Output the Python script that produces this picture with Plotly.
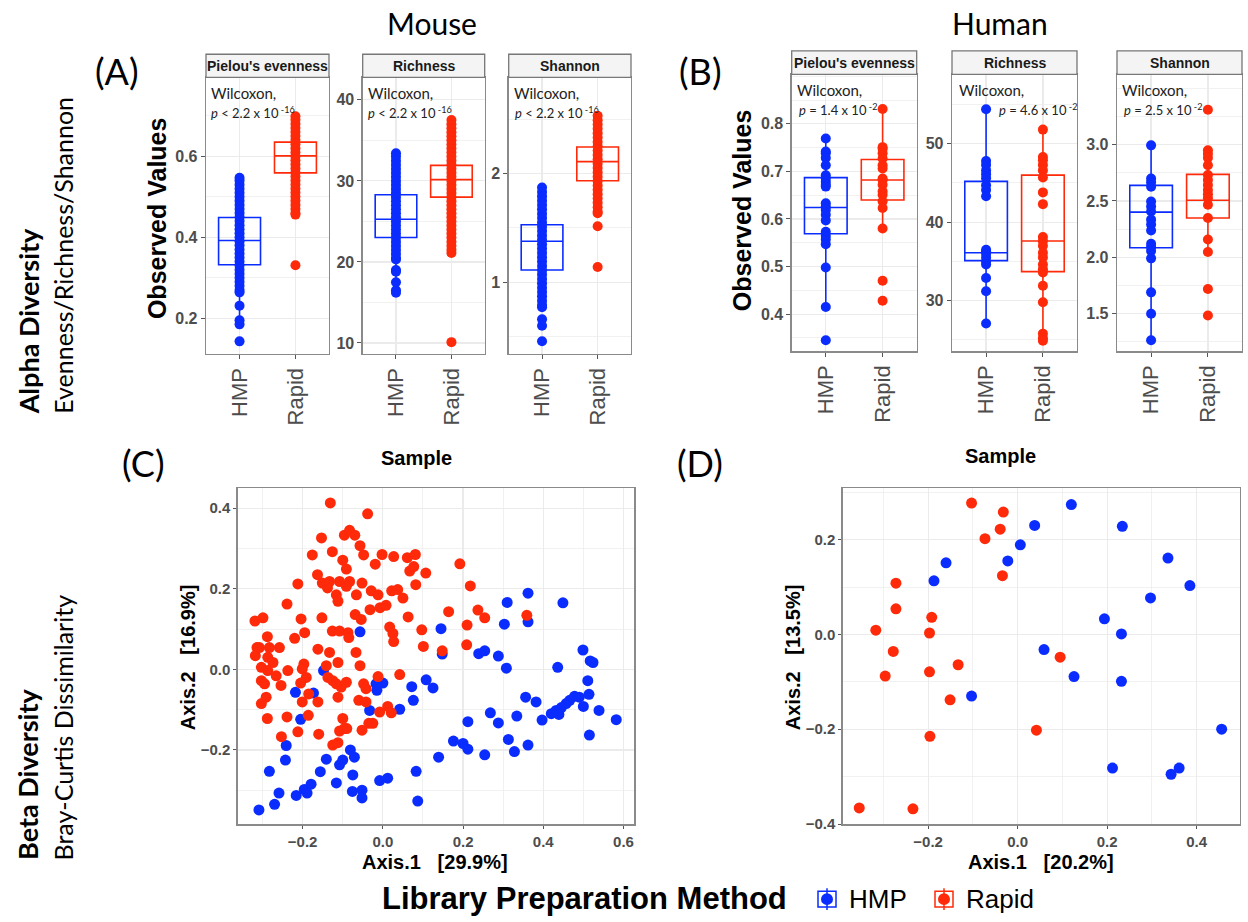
import plotly.graph_objects as go

# ---------------- data ----------------
CATS = ["HMP", "Rapid"]
METRICS = ["Pielou's evenness", "Richness", "Shannon"]

# Mouse alpha diversity (observed values per sample)
m_piel_hmp = [0.547, 0.54, 0.53, 0.52, 0.51, 0.50, 0.49, 0.48, 0.47, 0.46, 0.45, 0.44, 0.43, 0.42,
              0.41, 0.40, 0.39, 0.38, 0.37, 0.36, 0.35, 0.34, 0.33, 0.32, 0.31, 0.30, 0.29, 0.28,
              0.27, 0.264, 0.231, 0.195, 0.185, 0.143]
m_piel_rapid = [0.699, 0.69, 0.68, 0.67, 0.66, 0.65, 0.64, 0.63, 0.62, 0.61, 0.60, 0.59, 0.58, 0.57,
                0.56, 0.55, 0.54, 0.53, 0.52, 0.51, 0.50, 0.49, 0.48, 0.47, 0.46, 0.456, 0.331]
m_rich_hmp = [33.4, 33.0, 32.5, 32.0, 31.5, 31.0, 30.5, 30.0, 29.5, 29.0, 28.5, 28.0, 27.5, 27.0,
              26.5, 26.0, 25.5, 25.0, 24.5, 24.0, 23.5, 23.0, 22.5, 22.0, 21.5, 21.0, 20.5, 20.3,
              19.0, 18.8, 17.5, 16.5, 16.2]
m_rich_rapid = [37.5, 37.0, 36.5, 36.0, 35.5, 35.0, 34.5, 34.0, 33.5, 33.0, 32.5, 32.0, 31.5, 31.0,
                30.5, 30.0, 29.5, 29.0, 28.5, 28.0, 27.5, 27.0, 26.5, 26.0, 25.5, 25.0, 24.5, 24.0,
                23.5, 23.0, 22.5, 22.0, 21.5, 21.1, 10.1]
m_shan_hmp = [1.87, 1.83, 1.79, 1.75, 1.71, 1.67, 1.63, 1.59, 1.55, 1.51, 1.47, 1.43, 1.39, 1.35,
              1.31, 1.27, 1.23, 1.19, 1.15, 1.11, 1.07, 1.03, 0.99, 0.95, 0.91, 0.87, 0.83, 0.79,
              0.77, 0.66, 0.60, 0.457]
m_shan_rapid = [2.53, 2.49, 2.45, 2.41, 2.37, 2.33, 2.29, 2.25, 2.21, 2.17, 2.13, 2.09, 2.05, 2.01,
                1.97, 1.93, 1.89, 1.85, 1.81, 1.77, 1.73, 1.69, 1.65, 1.635, 1.514, 1.14]

# box statistics [HMP, Rapid]: q1, median, q3, lower whisker, upper whisker
m_piel_box = dict(q1=[0.332, 0.559], med=[0.392, 0.601], q3=[0.449, 0.635], lo=[0.185, 0.456], hi=[0.547, 0.699])
m_rich_box = dict(q1=[23.02, 27.99], med=[25.26, 30.16], q3=[28.29, 31.91], lo=[16.2, 21.1], hi=[33.4, 37.5])
m_shan_box = dict(q1=[1.113, 1.933], med=[1.377, 2.109], q3=[1.529, 2.243], lo=[0.77, 1.635], hi=[1.87, 2.53])

# Human alpha diversity
h_piel_hmp = [0.769, 0.742, 0.738, 0.728, 0.713, 0.692, 0.685, 0.678, 0.672, 0.668, 0.633, 0.626,
              0.619, 0.609, 0.597, 0.573, 0.564, 0.557, 0.547, 0.498, 0.415, 0.345]
h_piel_rapid = [0.831, 0.751, 0.747, 0.738, 0.727, 0.713, 0.706, 0.685, 0.682, 0.672, 0.658, 0.651,
                0.637, 0.623, 0.580, 0.470, 0.428]
h_rich_hmp = [54.4, 47.8, 47.3, 46.6, 46.1, 45.6, 44.7, 44.1, 43.3, 36.5, 36.3, 36.0, 35.5, 35.0,
              34.6, 32.9, 31.2, 27.1]
h_rich_rapid = [51.8, 48.3, 47.9, 47.3, 46.6, 45.7, 43.8, 42.3, 38.1, 37.6, 37.0, 36.1, 35.5, 34.6,
                34.0, 33.6, 31.9, 29.8, 25.8, 25.2, 24.9]
h_shan_hmp = [2.994, 2.70, 2.666, 2.627, 2.495, 2.451, 2.407, 2.334, 2.29, 2.237, 2.12, 2.09, 2.055,
              1.99, 1.688, 1.498, 1.263]
h_shan_rapid = [3.311, 2.95, 2.92, 2.883, 2.818, 2.73, 2.686, 2.642, 2.598, 2.56, 2.525, 2.466, 2.349,
                2.158, 2.046, 1.718, 1.483]

h_piel_box = dict(q1=[0.569, 0.640], med=[0.624, 0.682], q3=[0.687, 0.725], lo=[0.415, 0.580], hi=[0.769, 0.831])
h_rich_box = dict(q1=[35.1, 33.7], med=[36.1, 37.6], q3=[45.2, 46.0], lo=[27.1, 24.9], hi=[54.4, 51.8])
h_shan_box = dict(q1=[2.085, 2.349], med=[2.401, 2.507], q3=[2.639, 2.736], lo=[1.263, 2.046], hi=[2.994, 2.95])

# y tick values shown on each alpha panel
m_piel_ticks = [0.2, 0.4, 0.6]
m_rich_ticks = [10, 20, 30, 40]
m_shan_ticks = [1, 2]
h_piel_ticks = [0.4, 0.5, 0.6, 0.7, 0.8]
h_rich_ticks = [30, 40, 50]
h_shan_ticks = [1.5, 2.0, 2.5, 3.0]

m_pvals = ["<i>p</i> < 2.2 x 10<sup> -16</sup>"] * 3
h_pvals = ["<i>p</i> = 1.4 x 10<sup> -2</sup>", "<i>p</i> = 4.6 x 10<sup> -2</sup>", "<i>p</i> = 2.5 x 10<sup> -2</sup>"]

# Mouse beta diversity (PCoA, Bray-Curtis)
m_rapid_ax1 = [-0.131, -0.038, -0.153, -0.096, -0.083, -0.070, -0.057, -0.048, -0.176, -0.126,
               -0.100, -0.091, -0.019, -0.002, 0.027, 0.061, 0.081, 0.067, 0.077, 0.107,
               0.082, 0.192, 0.218, -0.163, -0.151, -0.138, -0.133, -0.108, -0.091, -0.212,
               -0.239, -0.116, -0.112, -0.066, -0.052, -0.029, -0.012, -0.032, -0.007, 0.008,
               0.022, 0.037, 0.050, 0.063, 0.097, 0.101, 0.164, 0.210, 0.237, 0.254,
               0.359, 0.148, 0.209, 0.017, 0.025, 0.027, -0.319, -0.299, -0.288, -0.314,
               -0.318, -0.303, -0.308, -0.283, -0.258, -0.287, -0.274, -0.287, -0.266, -0.254,
               -0.237, -0.303, -0.295, -0.291, -0.303, -0.288, -0.253, -0.239, -0.212, -0.204,
               -0.195, -0.220, -0.197, -0.201, -0.191, -0.205, -0.185, -0.201, -0.162, -0.186,
               -0.160, -0.152, -0.162, -0.133, -0.112, -0.141, -0.137, -0.125, -0.116, -0.104,
               -0.091, -0.112, -0.126, -0.108, -0.087, -0.085, -0.067, -0.057, -0.069, -0.054,
               -0.083, -0.125, -0.112, -0.100, -0.096, -0.108, -0.090, -0.060, -0.042, -0.052,
               -0.035, -0.025, -0.048, -0.042, -0.012, 0.042, -0.008, 0.012, 0.021]
m_rapid_ax2 = [0.413, 0.386, 0.326, 0.333, 0.345, 0.333, 0.307, 0.284, 0.284, 0.292,
               0.271, 0.249, 0.261, 0.285, 0.280, 0.277, 0.285, 0.244, 0.255, 0.239,
               0.210, 0.262, 0.207, 0.235, 0.214, 0.202, 0.218, 0.218, 0.206, 0.212,
               0.162, 0.185, 0.169, 0.185, 0.214, 0.195, 0.185, 0.148, 0.153, 0.159,
               0.195, 0.198, 0.177, 0.130, 0.098, 0.057, 0.143, 0.110, 0.147, 0.128,
               0.134, 0.046, 0.061, 0.105, 0.089, 0.069, 0.120, 0.128, 0.081, 0.054,
               0.034, 0.005, 0.054, 0.054, 0.054, 0.030, 0.017, -0.003, -0.016, -0.040,
               -0.003, -0.028, -0.036, -0.069, -0.085, -0.122, -0.167, -0.118, -0.155, 0.125,
               0.091, 0.077, 0.013, 0.001, -0.020, -0.034, -0.061, -0.081, -0.081, -0.114,
               -0.161, 0.128, 0.050, 0.042, 0.017, 0.009, -0.020, -0.028, -0.036, -0.044,
               -0.032, -0.069, 0.095, 0.095, 0.091, 0.079, 0.042, 0.009, 0.136, 0.124,
               0.218, -0.188, -0.182, -0.122, -0.147, -0.153, -0.147, -0.077, -0.081, -0.151,
               -0.134, -0.134, -0.036, -0.048, -0.018, -0.013, -0.106, -0.092, -0.108]
m_hmp_ax1 = [-0.057, -0.148, -0.218, -0.173, -0.205, -0.241, -0.243, -0.283, -0.309, -0.270,
             -0.259, -0.216, -0.196, -0.189, -0.179, -0.156, -0.141, -0.116, -0.108, -0.100,
             -0.081, -0.071, -0.075, -0.076, -0.052, -0.052, -0.008, 0.012, -0.033, -0.017,
             0.000, -0.015, 0.042, 0.072, 0.076, 0.108, 0.125, 0.083, 0.087, 0.139,
             0.145, 0.148, 0.176, 0.200, 0.212, 0.212, 0.254, 0.239, 0.254, 0.268,
             0.288, 0.288, 0.308, 0.310, 0.303, 0.313, 0.328, 0.334, 0.356, 0.362,
             0.362, 0.362, 0.382, 0.397, 0.420, 0.432, 0.439, 0.449, 0.436, 0.445,
             0.457, 0.466, 0.478, 0.490, 0.499, 0.500, 0.511, 0.514, 0.517, 0.524,
             0.515, 0.539, 0.582]
m_hmp_ax2 = [0.093, -0.003, -0.057, -0.059, -0.124, -0.189, -0.225, -0.253, -0.349, -0.335,
             -0.307, -0.313, -0.298, -0.307, -0.285, -0.254, -0.223, -0.282, -0.237, -0.225,
             -0.200, -0.218, -0.262, -0.303, -0.300, -0.319, -0.276, -0.270, -0.102, -0.036,
             -0.034, -0.052, -0.099, -0.043, -0.077, -0.026, -0.046, -0.253, -0.327, -0.218,
             0.101, 0.038, -0.178, -0.184, -0.198, -0.130, -0.212, 0.039, 0.046, -0.108,
             0.033, -0.133, 0.003, 0.166, 0.112, -0.174, -0.204, -0.116, -0.069, -0.188,
             0.189, 0.118, -0.081, -0.126, -0.110, -0.102, -0.112, 0.165, 0.005, -0.095,
             -0.085, -0.077, -0.067, -0.069, 0.048, -0.092, -0.028, -0.062, 0.021, 0.017,
             -0.163, -0.102, -0.125]

# Human beta diversity
h_rapid_ax1 = [-0.103, -0.032, -0.039, -0.073, -0.034, -0.272, -0.272, -0.192, -0.317, -0.197,
               -0.278, -0.296, -0.197, -0.133, -0.151, 0.095, 0.042, -0.196, -0.354, -0.234]
h_rapid_ax2 = [0.277, 0.258, 0.222, 0.202, 0.124, 0.108, 0.054, 0.036, 0.009, 0.003,
               -0.036, -0.088, -0.079, -0.064, -0.138, -0.048, -0.202, -0.215, -0.366, -0.368]
h_hmp_ax1 = [0.120, 0.038, 0.234, 0.006, -0.022, -0.160, -0.187, 0.336, 0.385, 0.297,
             0.194, 0.232, 0.059, 0.126, 0.232, -0.103, 0.456, 0.212, 0.343, 0.361]
h_hmp_ax2 = [0.274, 0.230, 0.228, 0.189, 0.155, 0.151, 0.113, 0.161, 0.103, 0.077,
             0.033, 0.001, -0.032, -0.089, -0.099, -0.130, -0.200, -0.282, -0.295, -0.282]

m_axis_pct = ["29.9%", "16.9%"]
h_axis_pct = ["20.2%", "13.5%"]

# ---------------- style ----------------
W, H = 1248, 922
BLUE = "#0a2cff"
RED = "#ff2a0a"
GRID = "#ebebeb"
BORDER = "#8a8a8a"
TICKC = "#4d4d4d"
SANS = "Liberation Sans, Arial, sans-serif"
CAL = "Lato, Carlito, sans-serif"


def px(x):
    return x / W


def py(y):
    return 1 - y / H


fig = go.Figure()
layout = dict(width=W, height=H, margin=dict(l=0, r=0, t=0, b=0), paper_bgcolor="white",
              plot_bgcolor="white", showlegend=False, boxmode="overlay")
annotations = []
shapes = []


def ann(text, x, y, size, family=SANS, color="black", angle=0, xanchor="center", yanchor="middle"):
    annotations.append(dict(text=text, x=px(x), y=py(y), xref="paper", yref="paper", showarrow=False,
                            font=dict(size=size, family=family, color=color), textangle=angle,
                            xanchor=xanchor, yanchor=yanchor))


# top panels: (x-left, x-right, y-top, y-bottom, strip-top, label, range, minor-dtick, fmt, ticks, hmp, rapid, box, pval, pval-x)
top = [
    (206, 329, 78, 357, 54.7, METRICS[0], [0.112, 0.795], 0.1, ".1f", m_piel_ticks, m_piel_hmp, m_piel_rapid, m_piel_box, m_pvals[0], 209),
    (362.7, 484.7, 78, 357, 54.7, METRICS[1], [8.65, 42.78], 5, "d", m_rich_ticks, m_rich_hmp, m_rich_rapid, m_rich_box, m_pvals[1], 366),
    (508.7, 631, 78, 357, 54.7, METRICS[2], [0.341, 2.884], 0.5, "d", m_shan_ticks, m_shan_hmp, m_shan_rapid, m_shan_box, m_pvals[2], 513),
    (791.7, 916.7, 75, 354.3, 51.3, METRICS[0], [0.322, 0.904], 0.05, ".1f", h_piel_ticks, h_piel_hmp, h_piel_rapid, h_piel_box, h_pvals[0], 797),
    (952, 1077, 75, 354.3, 51.3, METRICS[1], [23.56, 58.84], 5, "d", h_rich_ticks, h_rich_hmp, h_rich_rapid, h_rich_box, h_pvals[1], 997),
    (1117, 1242, 75, 354.3, 51.3, METRICS[2], [1.165, 3.625], 0.25, ".1f", h_shan_ticks, h_shan_hmp, h_shan_rapid, h_shan_box, h_pvals[2], 1122),
]

for i, (xl, xr, yt, yb, st, label, rng, mdt, fmt, tv, hv, rv, bx, pv, pvx) in enumerate(top):
    n = i + 1
    xa = "x" if n == 1 else f"x{n}"
    ya = "y" if n == 1 else f"y{n}"
    layout["xaxis" if n == 1 else f"xaxis{n}"] = dict(
        domain=[px(xl), px(xr)], anchor=ya, range=[-0.6, 1.6], tickvals=[0, 1], ticktext=CATS,
        tickangle=-90, tickfont=dict(size=22, color=TICKC, family=SANS), showgrid=True, gridcolor=GRID,
        gridwidth=1.2, zeroline=False, showline=True, mirror=True, linecolor=BORDER, linewidth=1.3,
        ticks="outside", ticklen=4, tickcolor="#555", fixedrange=True)
    layout["yaxis" if n == 1 else f"yaxis{n}"] = dict(
        domain=[py(yb), py(yt)], anchor=xa, range=rng, tickvals=tv, tickformat=fmt,
        tickfont=dict(size=16, color=TICKC, family=SANS, weight="bold"), showgrid=True, gridcolor=GRID,
        gridwidth=1.2, minor=dict(dtick=mdt, tick0=0, showgrid=True, gridcolor=GRID, gridwidth=0.7),
        zeroline=False, showline=True, mirror=True, linecolor=BORDER, linewidth=1.3,
        ticks="outside", ticklen=4, tickcolor="#555", fixedrange=True)
    for k, (vals, col) in enumerate([(hv, BLUE), (rv, RED)]):
        fig.add_trace(go.Box(x=[k], q1=[bx["q1"][k]], median=[bx["med"][k]], q3=[bx["q3"][k]],
                             lowerfence=[bx["lo"][k]], upperfence=[bx["hi"][k]], width=0.75,
                             boxpoints=False, whiskerwidth=0, fillcolor="rgba(255,255,255,0)",
                             line=dict(color=col, width=1.6), xaxis=xa, yaxis=ya, hoverinfo="skip"))
        fig.add_trace(go.Scatter(x=[k] * len(vals), y=vals, mode="markers",
                                 marker=dict(color=col, size=10, line=dict(width=0)),
                                 xaxis=xa, yaxis=ya, hoverinfo="skip"))
    # strip
    shapes.append(dict(type="rect", xref="paper", yref="paper", x0=px(xl), x1=px(xr), y0=py(yt), y1=py(st),
                       fillcolor="#f4f4f4", line=dict(color="#777", width=1.3), layer="above"))
    ann(f"<b>{label}</b>", (xl + xr) / 2, (yt + st) / 2, 14, family=SANS, color="#1a1a1a")
    ann("Wilcoxon,", xl + 3 if i != 4 else xl + 5, yt + 16, 15, family=CAL, color="#222", xanchor="left")
    ann(pv, pvx, yt + 35, 13, family=CAL, color="#222", xanchor="left")

# bottom panels
bot = [
    (237.7, 634.3, [-0.362, 0.627], [-0.385, 0.449], m_hmp_ax1, m_hmp_ax2, m_rapid_ax1, m_rapid_ax2, m_axis_pct, 188, 435),
    (842.7, 1240, [-0.391, 0.497], [-0.401, 0.308], h_hmp_ax1, h_hmp_ax2, h_rapid_ax1, h_rapid_ax2, h_axis_pct, 793, 1041),
]
BT, BB = 492.7, 831.7
for j, (xl, xr, xr_, yr_, hx, hy, rx, ry, pct, ytx, xtx) in enumerate(bot):
    n = 7 + j
    xa, ya = f"x{n}", f"y{n}"
    common = dict(showgrid=True, gridcolor=GRID, gridwidth=1.2, zeroline=False, showline=True, mirror=True,
                  linecolor=BORDER, linewidth=1.3, ticks="outside", ticklen=3, tickcolor="#555",
                  tickfont=dict(size=15, color=TICKC, family=SANS, weight="bold"), tickformat=".1f",
                  dtick=0.2, tick0=0, fixedrange=True,
                  minor=dict(dtick=0.1, tick0=0, showgrid=True, gridcolor=GRID, gridwidth=0.7))
    layout[f"xaxis{n}"] = dict(domain=[px(xl), px(xr)], anchor=ya, range=xr_, **common)
    layout[f"yaxis{n}"] = dict(domain=[py(BB), py(BT)], anchor=xa, range=yr_, **common)
    fig.add_trace(go.Scatter(x=hx, y=hy, mode="markers", marker=dict(color=BLUE, size=11, line=dict(width=0)),
                             xaxis=xa, yaxis=ya, hoverinfo="skip"))
    fig.add_trace(go.Scatter(x=rx, y=ry, mode="markers", marker=dict(color=RED, size=11, line=dict(width=0)),
                             xaxis=xa, yaxis=ya, hoverinfo="skip"))
    sp = "\u00a0\u00a0\u00a0"
    ann(f"<b>Axis.1{sp}[{pct[0]}]</b>", xtx, 870, 20)
    ann(f"<b>Axis.2{sp}[{pct[1]}]</b>", ytx, 663, 20, angle=-90)

# titles and side labels
ann("Mouse", 432, 23, 30, family=CAL)
ann("Human", 1000, 23, 30, family=CAL)
ann("(A)", 117, 72, 36, family=CAL)
ann("(B)", 700, 72, 36, family=CAL)
ann("(C)", 143, 467, 36, family=CAL)
ann("(D)", 700, 467, 36, family=CAL)
ann("<b>Observed Values</b>", 157, 220, 25, angle=-90)
ann("<b>Observed Values</b>", 742, 212, 25, angle=-90)
ann("<b>Sample</b>", 416, 462, 20)
ann("<b>Sample</b>", 1000, 460, 20)
ann("<b>Alpha Diversity</b>", 28, 420, 27, family=CAL, angle=-90, yanchor="bottom")
ann("Evenness/Richness/Shannon", 63, 420, 25, family=CAL, angle=-90, yanchor="bottom")
ann("<b>Beta Diversity</b>", 28, 870, 27, family=CAL, angle=-90, yanchor="bottom")
ann("Bray-Curtis Dissimilarity", 63, 870, 25, family=CAL, angle=-90, yanchor="bottom")

# legend (manual, ggplot style)
ann("<b>Library Preparation Method</b>", 380, 906, 31, xanchor="left")
for cx, col, lab in [(827, BLUE, CATS[0]), (944, RED, CATS[1])]:
    shapes.append(dict(type="line", xref="paper", yref="paper", x0=px(cx), x1=px(cx), y0=py(896), y1=py(918),
                       line=dict(color=col, width=1.5)))
    shapes.append(dict(type="rect", xref="paper", yref="paper", x0=px(cx - 9), x1=px(cx + 9), y0=py(899), y1=py(915),
                       line=dict(color=col, width=1.5), fillcolor="rgba(0,0,0,0)"))
    shapes.append(dict(type="circle", xref="paper", yref="paper", x0=px(cx - 6), x1=px(cx + 6), y0=py(901), y1=py(913),
                       line=dict(color=col, width=0), fillcolor=col))
    ann(lab, cx + 20, 907, 26, xanchor="left")

layout["annotations"] = annotations
layout["shapes"] = shapes
fig.update_layout(**layout)
fig.write_html("out.html", config={"displayModeBar": False, "staticPlot": True},
               post_script="document.body.style.margin='0';document.body.style.overflow='hidden';")
